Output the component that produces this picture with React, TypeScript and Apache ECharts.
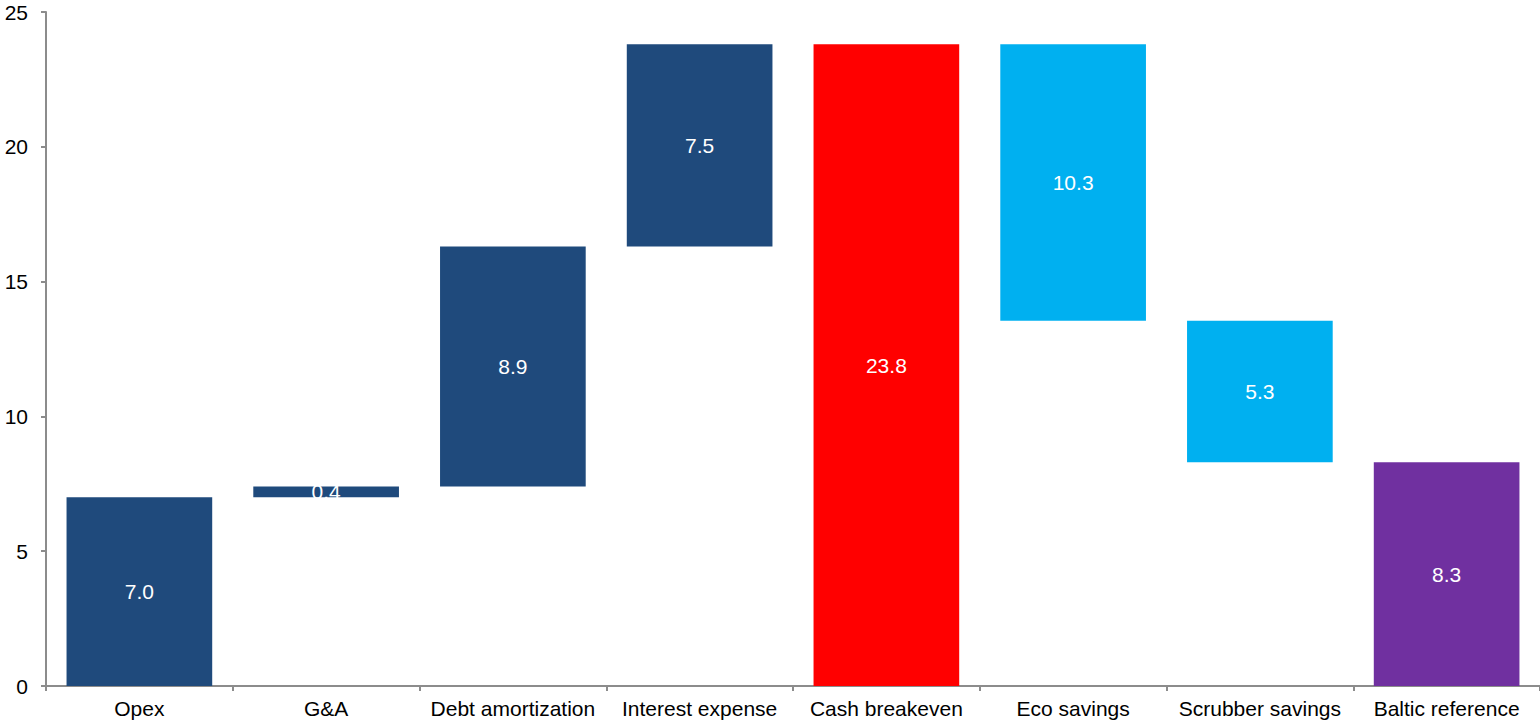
import React, { useEffect, useRef } from "react";
import * as echarts from "echarts";

const categories = [
  "Opex",
  "G&A",
  "Debt amortization",
  "Interest expense",
  "Cash breakeven",
  "Eco savings",
  "Scrubber savings",
  "Baltic reference",
];
const baseValues = [0, 7.0, 7.4, 16.3, 0, 13.55, 8.3, 0];
const barValues = [7.0, 0.4, 8.9, 7.5, 23.8, 10.25, 5.25, 8.3];
const barColors = [
  "#1F4A7C",
  "#1F4A7C",
  "#1F4A7C",
  "#1F4A7C",
  "#FF0000",
  "#00B0F0",
  "#00B0F0",
  "#7030A0",
];
const yTicks = { min: 0, max: 25, interval: 5 };

export default function App() {
  const ref = useRef<HTMLDivElement>(null);
  useEffect(() => {
    if (!ref.current) return;
    const chart = echarts.init(ref.current, null, { renderer: "svg" });
    const font = "Liberation Sans, Arial, sans-serif";
    chart.setOption({
      animation: false,
      backgroundColor: "#ffffff",
      grid: { left: 46, right: 0, top: 12, bottom: 39, containLabel: false },
      xAxis: {
        type: "category",
        data: categories,
        axisLine: { show: true, lineStyle: { color: "#8C8C8C", width: 2 } },
        axisTick: { show: true, length: 5, lineStyle: { color: "#8C8C8C", width: 2 } },
        axisLabel: { color: "#000", fontSize: 21, fontFamily: font, margin: 12, interval: 0 },
        splitLine: { show: false },
      },
      yAxis: {
        type: "value",
        min: yTicks.min,
        max: yTicks.max,
        interval: yTicks.interval,
        axisLine: { show: true, lineStyle: { color: "#8C8C8C", width: 2 } },
        axisTick: { show: true, length: 5, lineStyle: { color: "#8C8C8C", width: 2 } },
        axisLabel: { color: "#000", fontSize: 21, fontFamily: font, margin: 18 },
        splitLine: { show: false },
      },
      series: [
        {
          type: "bar",
          stack: "w",
          data: baseValues,
          itemStyle: { color: "transparent" },
          emphasis: { disabled: true },
          barWidth: "78%",
          silent: true,
        },
        {
          type: "bar",
          stack: "w",
          barWidth: "78%",
          data: barValues.map((v, i) => ({ value: v, itemStyle: { color: barColors[i] } })),
          label: {
            show: true,
            position: "inside",
            color: "#ffffff",
            fontSize: 21,
            fontFamily: font,
            formatter: (p: any) => Number(p.value).toFixed(1),
          },
        },
      ],
    });
    return () => chart.dispose();
  }, []);
  return (
    <div
      ref={ref}
      style={{ position: "fixed", left: 0, top: 0, width: 1540, height: 725 }}
    />
  );
}
